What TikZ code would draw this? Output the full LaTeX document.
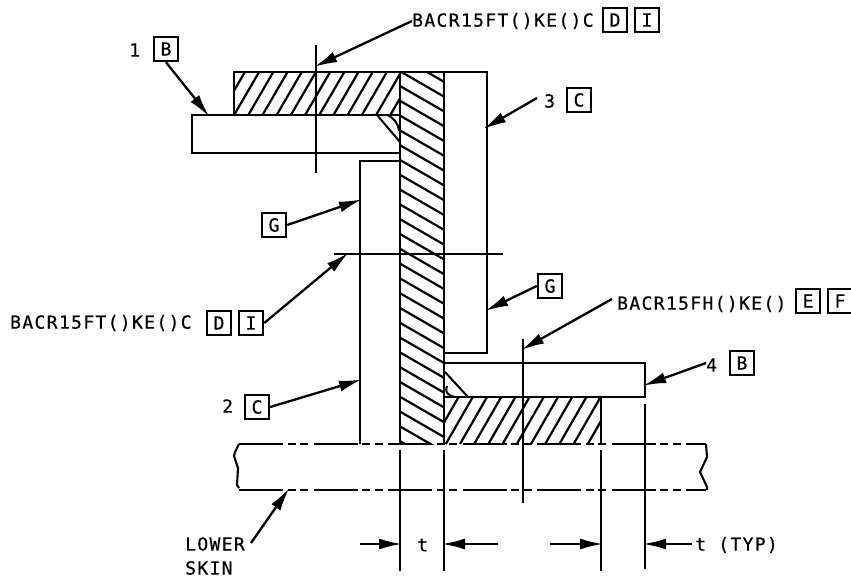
\documentclass[tikz,border=0pt]{standalone}
\usepackage{fontspec}
\setmainfont{DejaVu Sans Mono}[LetterSpace=7.5,FakeBold=0.5]
\usetikzlibrary{arrows.meta}
\tikzstyle{leader} = [line width=2.3pt,shorten >=-2pt,-{Latex[length=23pt,width=11pt]}]
\tikzstyle{partline} = [line width=2.6pt]
\tikzstyle{hatchline} = [line width=2.2pt]
\tikzstyle{centerline} = [line width=2.6pt]
\tikzstyle{skinline} = [line width=2.7pt,dash pattern=on 44pt off 4.5pt on 8pt off 4.5pt on 8pt off 5.5pt]
\tikzstyle{flagbox} = [rectangle, draw, line width=2.5pt, minimum size=24pt, inner sep=0pt, font=\fontsize{18}{18}\selectfont]
\tikzstyle{callout} = [inner sep=0pt, anchor=west, font=\fontsize{18}{18}\selectfont]

\begin{document}
\begin{tikzpicture}[x=1pt,y=-1pt]
\useasboundingbox (0,0) rectangle (851,580);

% Hatching
\begin{scope}
\clip (234,72) rectangle (400,115);
\foreach \i in {-2,...,11} {
  \draw[hatchline] (248.3+14.2*\i,115) -- ++(25,-43);
}
\end{scope}
\begin{scope}
\clip (400,72) rectangle (444,444);
\foreach \i in {-2,...,25} {
  \draw[hatchline] (400,86+14.8*\i) -- ++(44,25.4);
}
\end{scope}
\begin{scope}
\clip (445,397) rectangle (601,444);
\foreach \i in {-2,...,10} {
  \draw[hatchline] (460+14.2*\i,444) -- ++(27,-47);
}
\end{scope}

% Parts
\draw[partline] (400,72) -- (400,444);
\draw[partline] (444,72) -- (444,444);
\draw[partline] (400,115) -- (234,115) -- (234,72) -- (487,72) -- (487,353) -- (444,353);
\draw[partline] (400,153) -- (192,153) -- (192,115) -- (234,115);
\draw[partline] (400,161) -- (360,161) -- (360,444);
\draw[partline] (444,363) -- (645,363) -- (645,397) -- (444,397);
\draw[partline] (601,397) -- (601,444);

% Fillets
\draw[line width=2pt] (377,115) -- (400,142);
\draw[line width=2pt] (387,115) .. controls (394,118) and (398,123) .. (399,131);
\draw[line width=2pt] (445,372) -- (468,397);
\draw[line width=2pt] (447,386) .. controls (445,391) and (446,395) .. (455,397);

% Skin
\draw[skinline] (239,444) -- (706,444);
\draw[skinline] (239,490) -- (706,490);
\draw[line width=2.1pt] (239,444) -- (235,452) -- (234,456) -- (238,468) -- (237,485) -- (239,488);
\draw[line width=2.1pt] (706,444) -- (707,457) -- (700,472) -- (707,487) -- (707,490);

% Fastener center lines
\draw[centerline] (316,45) -- (316,173);
\draw[centerline] (334,254) -- (503,254);
\draw[centerline] (523,339) -- (523,503);

% Dimension lines
\draw[centerline] (400,450) -- (400,571);
\draw[centerline] (444,450) -- (444,571);
\draw[centerline] (601,450) -- (601,571);
\draw[centerline] (645,404) -- (645,569);

% Labels
\node[callout] (fastop) at (412,21) {BACR15FT()KE()C};
\node[flagbox] (dtop) at (615,20) {D};
\node[flagbox] (itop) at (647,20) {I};
\node[callout] (fasleft) at (10,323) {BACR15FT()KE()C};
\node[flagbox] (dleft) at (219,323) {D};
\node[flagbox] (ileft) at (251,323) {I};
\node[callout] (faslow) at (617,304) {BACR15FH()KE()};
\node[flagbox] (elow) at (808,301) {E};
\node[flagbox] (flow) at (840,301) {F};

\node[callout] (one) at (129,50) {1};
\node[flagbox] (bone) at (166,49) {B};
\node[callout] (two) at (222,406) {2};
\node[flagbox] (ctwo) at (257,407) {C};
\node[callout] (three) at (544,101) {3};
\node[flagbox] (cthree) at (579,100) {C};
\node[callout] (four) at (706,365) {4};
\node[flagbox] (bfour) at (742,363) {B};
\node[flagbox] (gup) at (274,225) {G};
\node[flagbox] (glow) at (550,286) {G};

\node[callout] (lower) at (185,544) {LOWER};
\node[callout] (skin) at (185,568) {SKIN};
\node[callout] (tleft) at (417,545) {t};
\node[callout] (ttyp) at (695,545) {t (TYP)};

% Arrow tips
\coordinate (tipfastop) at (316,66);
\coordinate (tipone) at (208,115);
\coordinate (tipthree) at (485,128);
\coordinate (tipgup) at (360,200);
\coordinate (tipfasleft) at (347,254);
\coordinate (tiptwo) at (360,380);
\coordinate (tipglow) at (487,310);
\coordinate (tipfaslow) at (523,349);
\coordinate (tipfour) at (645,385);
\coordinate (tipskin) at (288,490);
\coordinate (startskin) at (251,543);
\coordinate (startfaslow) at (612,299);
\coordinate (startthree) at (537,98);
\coordinate (startfour) at (706,363);
\coordinate (dimaleft) at (360,544);
\coordinate (dimaright) at (400,544);
\coordinate (dimbleft) at (498,544);
\coordinate (dimbright) at (444,544);
\coordinate (dimcleft) at (550,544);
\coordinate (dimcright) at (601,544);
\coordinate (dimdright) at (645,544);
\coordinate (dimdleft) at (692,544);

% Connections
\draw[leader] (fastop.west) -- (tipfastop);
\draw[leader] (bone.south) -- (tipone);
\draw[leader] (startthree) -- (tipthree);
\draw[leader] (gup.east) -- (tipgup);
\draw[leader] (ileft.east) -- (tipfasleft);
\draw[leader] (ctwo.east) -- (tiptwo);
\draw[leader] (glow.west) -- (tipglow);
\draw[leader] (startfaslow) -- (tipfaslow);
\draw[leader] (startfour) -- (tipfour);
\draw[leader] (startskin) -- (tipskin);
\draw[leader] (dimaleft) -- (dimaright);
\draw[leader] (dimbleft) -- (dimbright);
\draw[leader] (dimcleft) -- (dimcright);
\draw[leader] (dimdleft) -- (dimdright);
\end{tikzpicture}
\end{document}
